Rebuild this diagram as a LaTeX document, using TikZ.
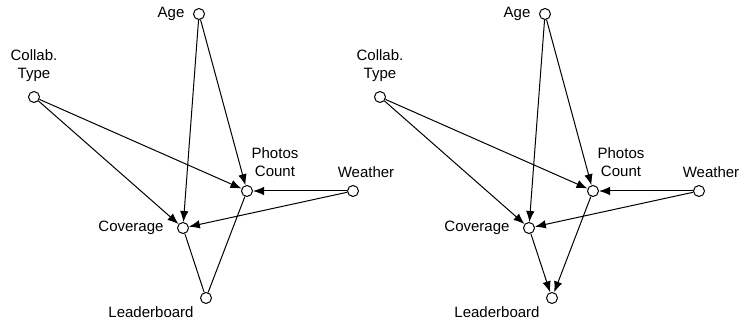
\documentclass[tikz,border=0pt]{standalone}
\usepackage{fontspec}
\setmainfont{Liberation Sans}
\usetikzlibrary{arrows.meta}
\begin{document}
\begin{tikzpicture}[x=1pt,y=-1pt,
 vnode/.style={circle,draw,line width=1pt,minimum size=11pt,inner sep=0pt,fill=white},
 lbl/.style={font=\fontsize{15}{18}\selectfont,align=center,inner sep=0pt},
 edge/.style={line width=1pt},
 arr/.style={edge,-{Latex[length=11pt,width=8.5pt]}}]
\useasboundingbox (0,0) rectangle (740,323);
% left graph
\node[vnode] (A1) at (199,14) {};
\node[vnode] (C1) at (34,97) {};
\node[vnode] (P1) at (247,191) {};
\node[vnode] (W1) at (353,191) {};
\node[vnode] (V1) at (183,228) {};
\node[vnode] (L1) at (206,298) {};
\node[lbl] (A1l) at (171,14) {Age};
\node[lbl] (C1l) at (34,66) {Collab.\\Type};
\node[lbl] (P1l) at (275,162) {Photos\\Count};
\node[lbl] (W1l) at (366,172) {Weather};
\node[lbl] (V1l) at (131,228) {Coverage};
\node[lbl] (L1l) at (151,312) {Leaderboard};
\draw[arr] (A1) -- (V1);
\draw[arr] (A1) -- (P1);
\draw[arr] (C1) -- (V1);
\draw[arr] (C1) -- (P1);
\draw[arr] (W1) -- (P1);
\draw[arr] (W1) -- (V1);
\draw[edge] (V1) -- (L1);
\draw[edge] (P1) -- (L1);
% right graph
\node[vnode] (A2) at (545,14) {};
\node[vnode] (C2) at (380,97) {};
\node[vnode] (P2) at (593,191) {};
\node[vnode] (W2) at (699,191) {};
\node[vnode] (V2) at (529,228) {};
\node[vnode] (L2) at (552,298) {};
\node[lbl] (A2l) at (517,14) {Age};
\node[lbl] (C2l) at (380,66) {Collab.\\Type};
\node[lbl] (P2l) at (621,162) {Photos\\Count};
\node[lbl] (W2l) at (711,172) {Weather};
\node[lbl] (V2l) at (477,228) {Coverage};
\node[lbl] (L2l) at (497,312) {Leaderboard};
\draw[arr] (A2) -- (V2);
\draw[arr] (A2) -- (P2);
\draw[arr] (C2) -- (V2);
\draw[arr] (C2) -- (P2);
\draw[arr] (W2) -- (P2);
\draw[arr] (W2) -- (V2);
\draw[arr] (V2) -- (L2);
\draw[arr] (P2) -- (L2);
\end{tikzpicture}
\end{document}
